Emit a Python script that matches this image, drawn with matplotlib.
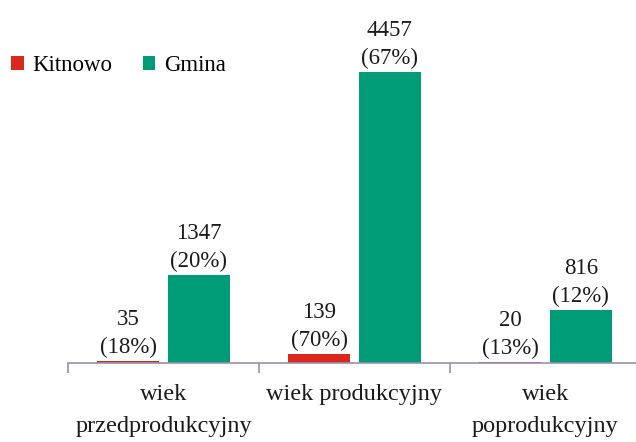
"""
Population by age group: Kitnowo vs Gmina.
"""

import numpy as np
import matplotlib.pyplot as plt

CATEGORIES = ["wiek\nprzedprodukcyjny", "wiek produkcyjny", "wiek\npoprodukcyjny"]
KITNOWO = [35, 139, 20]
KITNOWO_PCT = [18, 70, 13]
GMINA = [1347, 4457, 816]
GMINA_PCT = [20, 67, 12]

RED = "#DA291C"
GREEN = "#009B77"
AXIS = "#9A90B0"

plt.rcParams["font.family"] = ["Liberation Serif", "DejaVu Serif"]

fig = plt.figure(figsize=(6.36, 4.42), dpi=100)
ax = fig.add_axes([68 / 636, 79 / 442, 573 / 636, 326.5 / 442])

x = np.arange(len(CATEGORIES))
w = 0.325
off = 0.185

b1 = ax.bar(x - off, KITNOWO, w, color=RED, label="Kitnowo")
b2 = ax.bar(x + off, GMINA, w, color=GREEN, label="Gmina")

for bars, vals, pcts in ((b1, KITNOWO, KITNOWO_PCT), (b2, GMINA, GMINA_PCT)):
    for bar, v, p in zip(bars, vals, pcts):
        ax.annotate(f"{v}\n({p}%)",
                    (bar.get_x() + bar.get_width() / 2, bar.get_height()),
                    xytext=(0, 2), textcoords="offset points",
                    ha="center", va="bottom", fontsize=16.5, linespacing=1.43,
                    color="#1a1a1a")

ax.set_xlim(-0.5, 2.5)
ax.set_ylim(0, 5000)
ax.set_yticks([])
ax.set_xticks([-0.5, 0.5, 1.5, 2.5])
ax.set_xticklabels([])
ax.tick_params(axis="x", direction="out", length=7, width=1.2, color=AXIS)
for i, lab in enumerate(CATEGORIES):
    ax.text(i, -0.065, lab, transform=ax.get_xaxis_transform(),
            ha="center", va="top", fontsize=17.5, linespacing=1.65,
            color="#1a1a1a")

for s in ("top", "right", "left"):
    ax.spines[s].set_visible(False)
ax.spines["bottom"].set_color(AXIS)
ax.spines["bottom"].set_linewidth(1.2)

fig.legend(loc="upper left", bbox_to_anchor=(11 / 636, 0.875), frameon=False,
           ncol=2, fontsize=16.5, handlelength=0.55, handleheight=0.55,
           handletextpad=0.4, columnspacing=1.3, borderpad=0,
           borderaxespad=0)

fig.savefig("out.png", dpi=100, facecolor="white")
